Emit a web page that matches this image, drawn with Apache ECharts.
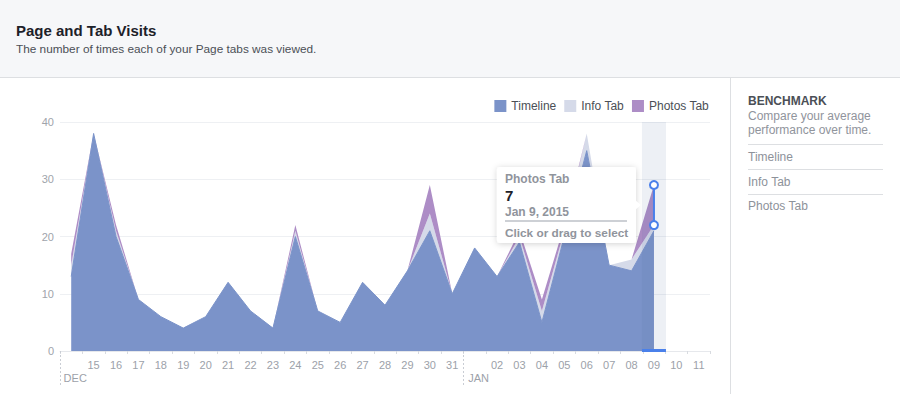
<!DOCTYPE html>
<html><head><meta charset="utf-8">
<script src="https://cdn.jsdelivr.net/npm/echarts@6/dist/echarts.min.js"></script>
<style>html,body{margin:0;padding:0;background:#fff}#c{width:900px;height:394px}</style>
</head><body><div id="c"></div>
<script>
// ---- data ----
const days = ['14','15','16','17','18','19','20','21','22','23','24','25','26','27','28','29','30','31',
              '01','02','03','04','05','06','07','08','09','10','11'];
const monthStarts = [0, 18];
const monthNames = ['DEC', 'JAN'];
const timeline  = [13,38,20, 9, 6, 4, 6,12, 7, 4,20, 7, 5,12, 8,14,21,10,18,13,19, 5,20,35,15,14,21,null,null];
const infoTab   = [ 2, 0, 1, 0, 0, 0, 0, 0, 0, 0, 1, 0, 0, 0, 0, 0, 3, 0, 0, 0, 1, 2, 1, 3, 0, 2, 1,null,null];
const photosTab = [ 2, 0, 1, 0, 0, 0, 0, 0, 0, 0, 1, 0, 0, 0, 0, 0, 5, 0, 0, 0, 1, 2, 1, 0, 0, 0, 7,null,null];
const yTicks = [0, 10, 20, 30, 40];
const seriesNames = ['Timeline', 'Info Tab', 'Photos Tab'];
const selectedIndex = 26;
const selectedDate = 'Jan 9, 2015';
const benchmarkItems = ['Timeline', 'Info Tab', 'Photos Tab'];

(function () {
const FONT = 'Helvetica, Arial, "Liberation Sans", sans-serif';
const C_BLUE = '#7b93c9', C_INFO = '#d5dae9', C_PHOTO = '#ad8dc6';

const chart = echarts.init(document.getElementById('c'), null, {renderer: 'svg'});
const yMax = yTicks[yTicks.length - 1];
const monthOf = {};
monthStarts.forEach((m, k) => monthOf[m] = monthNames[k]);

function areaSeries(name, data, color, z, lw) {
  return {
    name, type: 'line', stack: 'visits', data, symbol: 'none', z,
    lineStyle: {width: lw, color}, itemStyle: {color},
    areaStyle: {color, opacity: 1}, silent: true, animation: false
  };
}

chart.setOption({
  animation: false,
  textStyle: {fontFamily: FONT},
  grid: {left: 60, right: 190, top: 122, bottom: 43},
  legend: {
    data: seriesNames, right: 186, top: 95, icon: 'rect', itemWidth: 12, itemHeight: 12,
    itemGap: 8, textStyle: {color: '#4b4f56', fontSize: 12, fontFamily: FONT}
  },
  xAxis: {
    type: 'category', data: days, boundaryGap: true,
    axisLine: {show: true, lineStyle: {color: '#e6e8ec'}},
    axisTick: {show: true, length: 3, interval: 0, lineStyle: {color: '#d8dbe0'}},
    axisLabel: {
      interval: 0, color: '#9ca1a9', fontSize: 11, margin: 7, lineHeight: 13,
      formatter: (v, i) => monthOf[i] ? ' \n{m|' + monthOf[i] + '}' : v,
      rich: {m: {color: '#9ca1a9', fontSize: 11, lineHeight: 13, padding: [0, 0, 0, 8]}}
    },
    splitLine: {show: false}
  },
  yAxis: {
    type: 'value', min: 0, max: yMax, interval: yTicks[1] - yTicks[0],
    axisLine: {show: false}, axisTick: {show: false},
    axisLabel: {color: '#a0a4ab', fontSize: 11, margin: 6},
    splitLine: {lineStyle: {color: '#eef0f3'}}
  },
  series: [
    areaSeries(seriesNames[0], timeline, C_BLUE, 3, 1),
    areaSeries(seriesNames[1], infoTab, C_INFO, 2, 0),
    areaSeries(seriesNames[2], photosTab, C_PHOTO, 2, 0),
    {
      name: 'selection', type: 'bar', barWidth: 24, z: 5, silent: true,
      data: days.map((d, i) => i === selectedIndex ? yMax : null),
      itemStyle: {color: 'rgba(80,105,160,0.10)'}
    }
  ]
});

const px = (i, v) => chart.convertToPixel({gridIndex: 0}, [i, v]);
const band = px(1, 0)[0] - px(0, 0)[0];
const g = [];
function txt(x, y, text, font, fill, align) {
  g.push({type: 'text', x, y, z: 200, silent: true,
    style: {text, font, fill, align: align || 'left', verticalAlign: 'middle',
            textAlign: align || 'left', textVerticalAlign: 'middle'}});
}
// header
g.push({type: 'rect', shape: {x: 0, y: 0, width: 900, height: 77}, style: {fill: '#f6f7f9'}, z: 0, silent: true});
g.push({type: 'line', shape: {x1: 0, y1: 77.5, x2: 900, y2: 77.5}, style: {stroke: '#dddfe2', lineWidth: 1}, z: 1, silent: true});
txt(16, 30, 'Page and Tab Visits', 'bold 15px ' + FONT, '#1d2129');
txt(16, 49, 'The number of times each of your Page tabs was viewed.', '11.8px ' + FONT, '#4b4f56');
// right panel
g.push({type: 'line', shape: {x1: 730.5, y1: 78, x2: 730.5, y2: 394}, style: {stroke: '#dddfe2', lineWidth: 1}, z: 1, silent: true});
txt(748, 101, 'BENCHMARK', 'bold 12px ' + FONT, '#4b4f56');
txt(748, 116, 'Compare your average', '12px ' + FONT, '#90949c');
txt(748, 130, 'performance over time.', '12px ' + FONT, '#90949c');
[144.5, 169.5, 194.5].forEach(y => g.push({type: 'line', shape: {x1: 748, y1: y, x2: 883, y2: y}, style: {stroke: '#dddfe2', lineWidth: 1}, silent: true}));
benchmarkItems.forEach((t, k) => txt(748, 157 + k * 24.7, t, '12px ' + FONT, '#8d929a'));
// month boundary dashed lines
monthStarts.forEach(m => {
  const x = Math.round(px(m, 0)[0] - band / 2) + 0.5;
  const y0 = px(m, 0)[1];
  g.push({type: 'line', shape: {x1: x, y1: y0, x2: x, y2: y0 + 36}, style: {stroke: '#c9cdd4', lineWidth: 1, lineDash: [2, 2]}, z: 10, silent: true});
});
// selection marker
const baseVal = timeline[selectedIndex] + infoTab[selectedIndex];
const topVal = baseVal + photosTab[selectedIndex];
const pTop = px(selectedIndex, topVal), pBase = px(selectedIndex, baseVal), p0 = px(selectedIndex, 0);
const MB = '#4a80ea';
g.push({type: 'line', shape: {x1: pTop[0], y1: pTop[1], x2: pBase[0], y2: pBase[1]}, style: {stroke: MB, lineWidth: 2}, z: 100, silent: true});
g.push({type: 'rect', shape: {x: p0[0] - 12, y: p0[1] - 2, width: 24, height: 3}, style: {fill: MB}, z: 100, silent: true});
[pTop, pBase].forEach(p => g.push({type: 'circle', shape: {cx: p[0], cy: p[1], r: 4}, style: {fill: '#fff', stroke: MB, lineWidth: 2}, z: 101, silent: true}));
// tooltip
const midY = (pTop[1] + pBase[1]) / 2;
const bw = 139, bh = 76, bRight = pTop[0] - 18, bLeft = bRight - bw, bTop = midY - bh / 2;
g.push({type: 'rect', shape: {x: bLeft, y: bTop, width: bw, height: bh, r: 3},
  style: {fill: '#fff', shadowBlur: 6, shadowColor: 'rgba(0,0,0,0.18)', shadowOffsetY: 1}, z: 150, silent: true});
g.push({type: 'polygon', shape: {points: [[bRight - 1, midY - 5], [bRight + 5, midY], [bRight - 1, midY + 5]]},
  style: {fill: '#fff'}, z: 151, silent: true});
const tx = bLeft + 8;
txt(tx, bTop + 12, seriesNames[2], 'bold 12px ' + FONT, '#90949c');
txt(tx, bTop + 28.5, String(photosTab[selectedIndex]), 'bold 15px ' + FONT, '#1d2129');
txt(tx, bTop + 45, selectedDate, 'bold 12px ' + FONT, '#90949c');
g.push({type: 'line', shape: {x1: tx, y1: bTop + 54, x2: bRight - 9, y2: bTop + 54}, style: {stroke: '#bcc0c7', lineWidth: 1.5}, z: 200, silent: true});
txt(tx, bTop + 66, 'Click or drag to select', 'bold 11.8px ' + FONT, '#90949c');

chart.setOption({graphic: {elements: g}});
})();
</script>
</body></html>
